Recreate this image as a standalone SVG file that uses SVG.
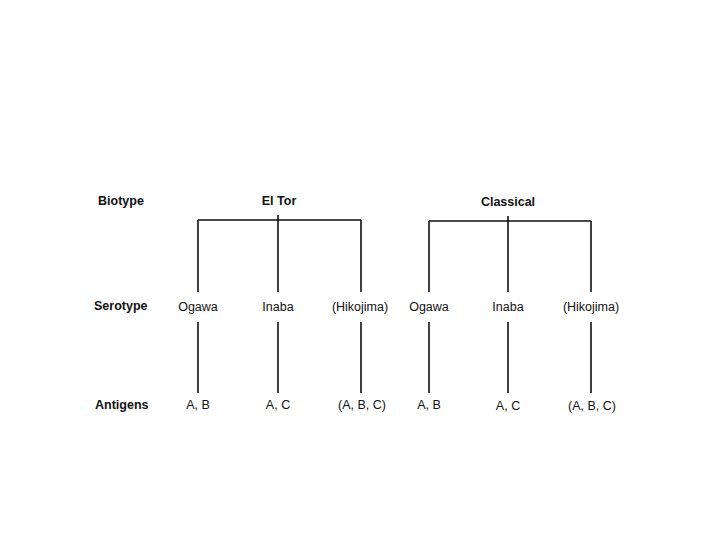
<svg xmlns="http://www.w3.org/2000/svg" width="720" height="540" viewBox="0 0 720 540">
<style>
text{font-family:"Liberation Sans",Arial,sans-serif;font-size:12.5px;fill:#111}
.b{font-weight:bold}
.m{text-anchor:middle}
.l{stroke:#111;stroke-width:1.6;fill:none}
</style>
<rect width="720" height="540" fill="#fff"/>
<g id="labels">
<text id="biotype" class="b" x="98" y="205">Biotype</text>
<text id="serotype" class="b" x="94" y="310">Serotype</text>
<text id="antigens" class="b" x="95" y="409">Antigens</text>
</g>
<g id="connectors">
<path class="l" d="M198 220H361M198 220V292M361 220V292M278 215V292"/>
<path class="l" d="M429 221H591M429 221V292M591 221V292M508 216V292"/>
<path class="l" d="M198 322V393M278 322V393M361 322V393M429 322V393M508 322V393M591 322V393"/>
</g>
<g id="eltor"><text class="b m" x="279" y="205">El Tor</text></g>
<g id="classical"><text class="b m" x="508" y="206">Classical</text></g>
<g id="eltor-ogawa"><text class="m" x="198" y="311">Ogawa</text></g>
<g id="eltor-inaba"><text class="m" x="278" y="311">Inaba</text></g>
<g id="eltor-hikojima"><text class="m" x="360" y="311">(Hikojima)</text></g>
<g id="classical-ogawa"><text class="m" x="429" y="311">Ogawa</text></g>
<g id="classical-inaba"><text class="m" x="508" y="311">Inaba</text></g>
<g id="classical-hikojima"><text class="m" x="591" y="311">(Hikojima)</text></g>
<g id="eltor-ogawa-ag"><text class="m" x="198" y="409">A, B</text></g>
<g id="eltor-inaba-ag"><text class="m" x="278" y="409">A, C</text></g>
<g id="eltor-hikojima-ag"><text class="m" x="362" y="409">(A, B, C)</text></g>
<g id="classical-ogawa-ag"><text class="m" x="429" y="409">A, B</text></g>
<g id="classical-inaba-ag"><text class="m" x="508" y="410">A, C</text></g>
<g id="classical-hikojima-ag"><text class="m" x="592" y="410">(A, B, C)</text></g>
</svg>
